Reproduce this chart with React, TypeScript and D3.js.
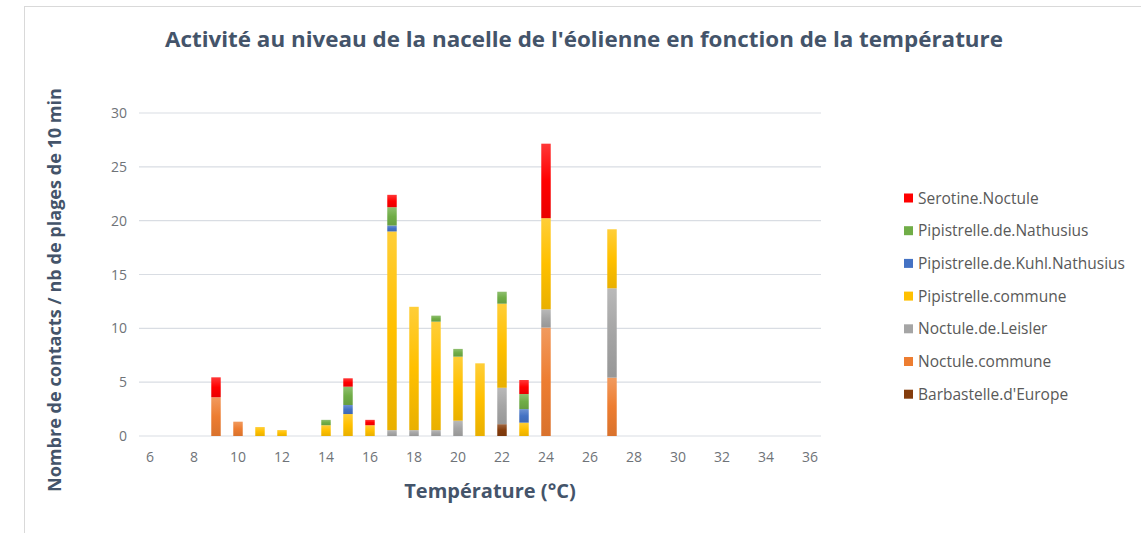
import React from 'react';
import * as d3 from 'd3';

// Température (°C) of each bar
const temperatures = [9, 10, 11, 12, 14, 15, 16, 17, 18, 19, 20, 21, 22, 23, 24, 27];

// contacts / nb de plages de 10 min, one list per species (bottom of the stack first)
const barbastelle = [0, 0, 0, 0, 0, 0, 0, 0, 0, 0, 0, 0, 1.1, 0, 0, 0];
const noctuleCommune = [3.6, 1.33, 0, 0, 0, 0, 0, 0, 0, 0, 0, 0, 0, 0, 10.07, 5.42];
const noctuleLeisler = [0, 0, 0, 0, 0, 0, 0, 0.55, 0.55, 0.55, 1.42, 0, 3.38, 0, 1.7, 8.3];
const pipistrelleCommune = [0, 0, 0.83, 0.55, 1.0, 2.04, 1.0, 18.45, 11.45, 10.07, 5.95, 6.75, 7.81, 1.24, 8.46, 5.48];
const pipistrelleKuhl = [0, 0, 0, 0, 0, 0.84, 0, 0.55, 0, 0, 0, 0, 0, 1.26, 0, 0];
const pipistrelleNathusius = [0, 0, 0, 0, 0.5, 1.7, 0, 1.7, 0, 0.56, 0.72, 0, 1.11, 1.4, 0, 0];
const serotine = [1.85, 0, 0, 0, 0, 0.78, 0.5, 1.15, 0, 0, 0, 0, 0, 1.3, 6.92, 0];

const seriesNames = [
  "Barbastelle.d'Europe",
  'Noctule.commune',
  'Noctule.de.Leisler',
  'Pipistrelle.commune',
  'Pipistrelle.de.Kuhl.Nathusius',
  'Pipistrelle.de.Nathusius',
  'Serotine.Noctule',
];
const seriesValues = [
  barbastelle,
  noctuleCommune,
  noctuleLeisler,
  pipistrelleCommune,
  pipistrelleKuhl,
  pipistrelleNathusius,
  serotine,
];
const seriesColors = ['#843C0C', '#ED7D31', '#A5A5A5', '#FFC000', '#4472C4', '#70AD47', '#FF0000'];

const xCategories = d3.range(6, 37); // 6 .. 36
const xTickLabels = d3.range(6, 37, 2);
const yTickLabels = [0, 5, 10, 15, 20, 25, 30];

const W = 1141;
const H = 533;
const plot = { left: 139, right: 821, top: 113, bottom: 436 };

export default function App() {
  const x = d3
    .scaleBand<number>()
    .domain(xCategories)
    .range([plot.left, plot.right])
    .paddingInner(0.57)
    .paddingOuter(0.285);
  const y = d3.scaleLinear().domain([0, 30]).range([plot.bottom, plot.top]);

  const rows = temperatures.map((t, i) => {
    const row: Record<string, number> = { t };
    seriesNames.forEach((name, s) => (row[name] = seriesValues[s][i]));
    return row;
  });
  const stacked = d3.stack<Record<string, number>>().keys(seriesNames)(rows);

  const legendNames = seriesNames.slice().reverse();
  const legendColors = seriesColors.slice().reverse();

  const tickColor = '#6F7378';
  const titleColor = '#44546A';

  return (
    <svg
      width={W}
      height={H}
      style={{ position: 'absolute', left: 0, top: 0, background: '#fff' }}
      fontFamily="'Open Sans', sans-serif"
    >
      <defs>
        {seriesColors.map((c, i) => {
          const col = d3.color(c)!;
          return (
            <linearGradient key={i} id={`g${i}`} x1="0" y1="0" x2="0" y2="1">
              <stop offset="0%" stopColor={d3.interpolateRgb(c, '#fff')(0.22)} />
              <stop offset="50%" stopColor={c} />
              <stop offset="100%" stopColor={col.darker(0.25).toString()} />
            </linearGradient>
          );
        })}
      </defs>

      {/* chart frame */}
      <line x1={24} x2={W} y1={6.5} y2={6.5} stroke="#D9D9D9" />
      <line x1={24.5} x2={24.5} y1={6.5} y2={H} stroke="#D9D9D9" />

      {/* title */}
      <text
        x={584}
        y={47}
        textAnchor="middle"
        fontSize={21}
        fontWeight={700}
        fill={titleColor}
        textLength={838}
        lengthAdjust="spacingAndGlyphs"
      >
        Activité au niveau de la nacelle de l'éolienne en fonction de la température
      </text>

      {/* grid */}
      {yTickLabels.map((v) => (
        <line key={v} x1={plot.left} x2={plot.right} y1={y(v)} y2={y(v)} stroke="#D9DDE3" strokeWidth={1.2} />
      ))}

      {/* y tick labels */}
      {yTickLabels.map((v) => (
        <text key={v} x={127} y={y(v) + 5} textAnchor="end" fontSize={14} fill={tickColor}>
          {v}
        </text>
      ))}

      {/* x tick labels */}
      {xTickLabels.map((v) => (
        <text key={v} x={x(v)! + x.bandwidth() / 2} y={462} textAnchor="middle" fontSize={14} fill={tickColor}>
          {v}
        </text>
      ))}

      {/* bars */}
      {stacked.map((layer, s) => (
        <g key={layer.key} fill={`url(#g${s})`}>
          {layer.map((d, i) =>
            d[1] - d[0] > 0 ? (
              <rect
                key={i}
                x={x(temperatures[i])}
                y={y(d[1])}
                width={x.bandwidth()}
                height={y(d[0]) - y(d[1])}
              />
            ) : null
          )}
        </g>
      ))}

      {/* axis titles */}
      <text x={490} y={498} textAnchor="middle" fontSize={20} fontWeight={700} fill={titleColor}>
        Température (°C)
      </text>
      <text
        transform="translate(61, 290) rotate(-90)"
        textAnchor="middle"
        fontSize={18}
        fontWeight={700}
        fill={titleColor}
        textLength={404}
        lengthAdjust="spacingAndGlyphs"
      >
        Nombre de contacts / nb de plages de 10 min
      </text>

      {/* legend */}
      {legendNames.map((name, i) => {
        const cy = 198 + i * 32.7;
        return (
          <g key={name}>
            <rect x={904} y={cy - 4.5} width={9} height={9} fill={legendColors[i]} />
            <text x={918} y={cy + 5.5} fontSize={15.5} fill="#595959">
              {name}
            </text>
          </g>
        );
      })}
    </svg>
  );
}
